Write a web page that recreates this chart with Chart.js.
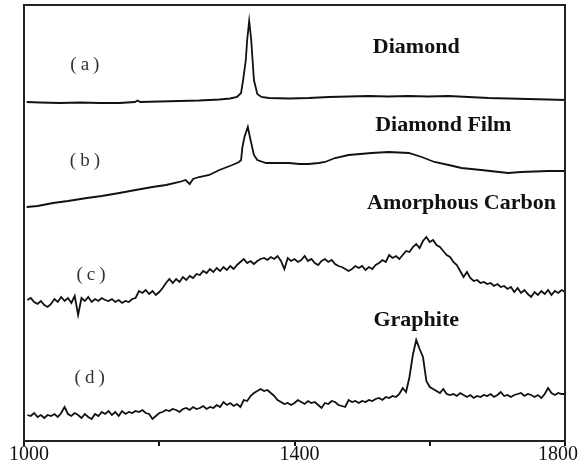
<!DOCTYPE html>
<html>
<head>
<meta charset="utf-8">
<script src="https://cdn.jsdelivr.net/npm/chart.js@4/dist/chart.umd.min.js"></script>
<style>
html,body{margin:0;padding:0;background:#fff;}
#wrap{width:583px;height:475px;position:relative;}
</style>
</head>
<body>
<div id="wrap"><canvas id="c" width="583" height="475"></canvas></div>
<script>
// Raman shift grid (cm^-1) for the noisy spectra
const wavenumbers = [
1005,1010,1015,1020,1025,1030,1035,1040,1045,1050,
1055,1060,1065,1070,1075,1080,1085,1090,1095,1100,
1105,1110,1115,1120,1125,1130,1135,1140,1145,1150,
1155,1160,1165,1170,1175,1180,1185,1190,1195,1200,
1205,1210,1215,1220,1225,1230,1235,1240,1245,1250,
1255,1260,1265,1270,1275,1280,1285,1290,1295,1300,
1305,1310,1315,1320,1325,1330,1335,1340,1345,1350,
1355,1360,1365,1370,1375,1380,1385,1390,1395,1400,
1405,1410,1415,1420,1425,1430,1435,1440,1445,1450,
1455,1460,1465,1470,1475,1480,1485,1490,1495,1500,
1505,1510,1515,1520,1525,1530,1535,1540,1545,1550,
1555,1560,1565,1570,1575,1580,1585,1590,1595,1600,
1605,1610,1615,1620,1625,1630,1635,1640,1645,1650,
1655,1660,1665,1670,1675,1680,1685,1690,1695,1700,
1705,1710,1715,1720,1725,1730,1735,1740,1745,1750,
1755,1760,1765,1770,1775,1780,1785,1790,1795,1800];

// (c) amorphous carbon (offset intensity, a.u.)
const amorphous = [
141,143,139,137,140,136,134,137,142,139,
144,140,143,138,145,126,143,140,144,139,
142,140,143,141,140,142,139,141,138,140,
139,142,143,150,148,151,147,150,146,149,
153,158,162,158,162,159,164,161,165,163,
167,166,170,168,172,169,173,170,174,171,
175,172,176,179,182,178,180,177,180,182,
183,181,184,182,185,180,172,183,180,182,
179,181,185,180,182,178,176,180,182,179,
181,177,175,174,172,170,172,175,173,175,
171,174,172,176,178,181,179,186,183,185,
182,186,190,189,194,197,193,200,204,199,
201,196,194,190,186,184,179,176,170,164,
169,163,160,161,158,159,157,158,155,157,
154,155,152,154,149,153,148,151,147,144,
149,146,150,147,151,146,150,148,151,149];

// (d) graphite
const graphite = [
26,25,28,24,26,23,26,25,27,24,
28,34,27,25,28,26,23,27,24,22,
27,25,29,27,30,26,29,25,30,27,
29,28,30,29,31,28,27,22,25,28,
29,31,30,32,31,29,32,33,31,34,
32,33,35,32,34,33,36,34,39,36,
38,35,37,34,41,40,45,48,50,52,
50,51,48,45,41,39,37,38,36,38,
41,39,37,40,38,39,36,33,38,37,
40,39,36,35,34,41,39,40,38,40,
39,41,40,42,43,41,44,43,45,44,
47,53,49,64,86,101,92,84,60,54,
52,50,48,52,47,46,47,45,48,46,
44,46,43,45,44,46,45,47,44,46,
49,45,46,44,46,47,48,45,47,46,
44,46,43,47,53,48,46,48,47,47];

// (a) diamond
const diamondX = [1004,1024,1053,1083,1112,1141,1164,1168,1172,1200,1230,1259,1289,1305,1315,
1321,1324,1328,1330,1333,1336,1338,1340,1345,1351,1362,1392,1421,1451,1480,1510,1539,1569,1598,1628,
1657,1687,1716,1745,1775,1800];
const diamond = [339,338.5,338,338.5,338,338,339,340.5,339,339.5,340,340.5,341.5,342.5,344,
348,361,381,401,420,401,381,361,347,344,343,342.5,343,344,344.5,345,344.5,345,344.5,345,
344,343,342.5,342,341.5,341];

// (b) diamond film
const filmX = [1004,1020,1043,1065,1093,1115,1141,1165,1190,1210,1230,1239,1245,1250,1259,
1274,1289,1308,1318,1321,1323,1326,1331,1335,1340,1345,1358,1377,1392,1407,1421,1436,1445,
1460,1480,1514,1539,1569,1588,1607,1628,1647,1676,1716,1735,1775,1800];
const diamondFilm = [234,235,238,240,243,245,248,251,254,256,259,261,257,262,264,
266,271,276,279,281,294,304,314,301,286,281,278,278,278,277,277,278,279,
283,286,288,289,288,284,279,276,273,271,268,269,270,270];

const tickLabels = ['1000','1400','1800'];

const curveLabels = [
  {text:'(a)', x:1093, y:376, bold:false},
  {text:'(b)', x:1093, y:280, bold:false},
  {text:'(c)', x:1102, y:166, bold:false},
  {text:'(d)', x:1100, y:63, bold:false},
  {text:'Diamond', x:1580, y:394, bold:true},
  {text:'Diamond Film', x:1620, y:316, bold:true},
  {text:'Amorphous Carbon', x:1647, y:238, bold:true},
  {text:'Graphite', x:1580, y:121, bold:true}
];

function pts(xs, ys){ return xs.map((x,i)=>({x:x, y:ys[i]})); }

const lineStyle = {borderColor:'#111', borderWidth:1.8, pointRadius:0, tension:0, fill:false};

const framePlugin = {
  id:'frame',
  afterDatasetsDraw(chart){
    const {ctx, chartArea:a, scales} = chart;
    ctx.save();
    ctx.strokeStyle = '#222';
    ctx.lineWidth = 2;
    ctx.strokeRect(a.left, a.top, a.right-a.left, a.bottom-a.top);
    ctx.textAlign = 'center';
    ctx.textBaseline = 'middle';
    curveLabels.forEach(l=>{
      const px = scales.x.getPixelForValue(l.x);
      const py = scales.y.getPixelForValue(l.y);
      if(l.bold){
        ctx.font = "bold 22px 'Liberation Serif'";
        ctx.fillStyle = '#111';
        ctx.letterSpacing = '0px';
      } else {
        ctx.font = "19px 'Liberation Serif'";
        ctx.fillStyle = '#333';
        ctx.letterSpacing = '4px';
      }
      ctx.fillText(l.text, px, py);
    });
    // x tick labels (edge labels kept inside the canvas)
    ctx.letterSpacing = '0px';
    ctx.font = "20px 'Liberation Serif'";
    ctx.fillStyle = '#111';
    ctx.textBaseline = 'top';
    tickLabels.forEach((t,i)=>{
      const px = scales.x.getPixelForValue(Number(t));
      let dx = 5;
      if(i === tickLabels.length-1){ dx = -7; }
      ctx.textAlign = 'center';
      ctx.fillText(t, px+dx, a.bottom+4);
    });
    ctx.restore();
  }
};

new Chart(document.getElementById('c'), {
  type:'line',
  data:{
    datasets:[
      Object.assign({label:'Diamond', data:pts(diamondX, diamond)}, lineStyle),
      Object.assign({label:'Diamond Film', data:pts(filmX, diamondFilm)}, lineStyle),
      Object.assign({label:'Amorphous Carbon', data:pts(wavenumbers, amorphous)}, lineStyle),
      Object.assign({label:'Graphite', data:pts(wavenumbers, graphite)}, lineStyle)
    ]
  },
  options:{
    responsive:false,
    animation:false,
    layout:{padding:{left:24, top:5, right:16, bottom:9}},
    plugins:{legend:{display:false}, tooltip:{enabled:false}},
    scales:{
      x:{
        type:'linear', min:1000, max:1800,
        ticks:{
          stepSize:200, color:'rgba(0,0,0,0)', padding:-2,
          font:{family:"'Liberation Serif'", size:20},
          maxRotation:0,
          callback:(v)=> tickLabels.includes(String(v)) ? String(v) : ''
        },
        grid:{drawOnChartArea:false, tickLength:5, color:'#111', lineWidth:2},
        border:{display:true, color:'#111', width:2}
      },
      y:{min:0, max:436, display:false}
    }
  },
  plugins:[framePlugin]
});
</script>
</body>
</html>
